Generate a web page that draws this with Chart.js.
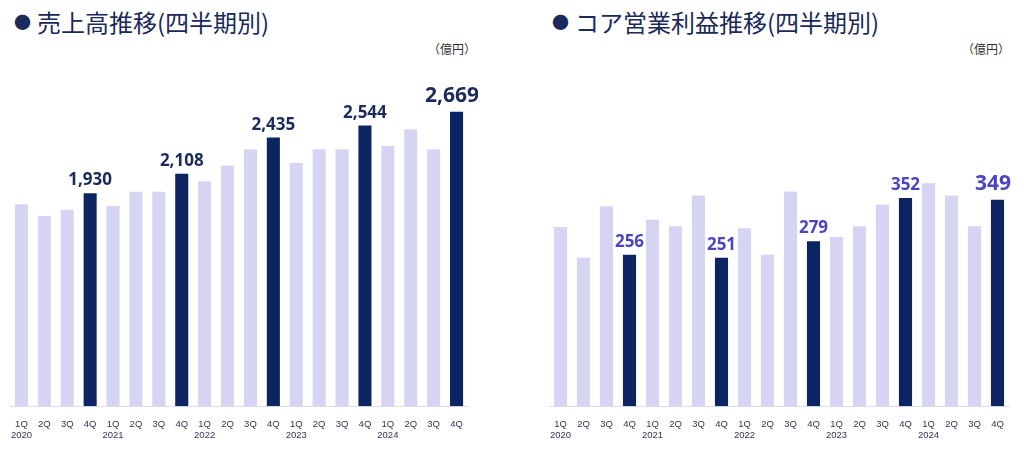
<!DOCTYPE html><html><head><meta charset="utf-8">
<script src="https://cdn.jsdelivr.net/npm/chart.js@4"></script>
<style>
body{margin:0;width:1024px;height:460px;background:#fff;font-family:"Noto Sans CJK JP",sans-serif;position:relative;overflow:hidden}
.t{position:absolute;top:4px;font-size:24px;color:#1a2a5a;white-space:nowrap}
.t b{font-size:17px;vertical-align:3px;margin-right:6px}
.u{position:absolute;top:40px;font-size:12px;color:#333}
.c{position:absolute;top:40px;height:405px}
</style></head><body>
<div class="t" style="left:14px"><b>●</b>売上高推移(四半期別)</div>
<div class="t" style="left:552px"><b>●</b>コア営業利益推移(四半期別)</div>
<div class="u" style="left:428px">（億円）</div>
<div class="u" style="left:962px">（億円）</div>
<div class="c" style="left:0;width:478px"><canvas id="a"></canvas></div>
<div class="c" style="left:539px;width:480px"><canvas id="b"></canvas></div>
<script>
const quarters=['1Q','2Q','3Q','4Q'];
const years=['2020','2021','2022','2023','2024'];
const sales=[1830,1725,1780,1930,1815,1945,1945,2108,2040,2180,2330,2435,2205,2330,2330,2544,2360,2510,2330,2669];
const profit=[303,251,338,256,315,304,356,251,301,256,363,279,286,304,341,352,377,356,304,349];
const labels=[];years.forEach(y=>quarters.forEach(q=>labels.push(q==='1Q'?[q,y]:[q,''])));
const LIGHT='#d5d5f3',DARK='#0c2461';
function make(id,data,max,lblColor){
 const isQ4=(i)=>i%4===3;
 new Chart(document.getElementById(id),{type:'bar',
  data:{labels,datasets:[{data,backgroundColor:data.map((v,i)=>isQ4(i)?DARK:LIGHT),barPercentage:0.57,categoryPercentage:1}]},
  options:{responsive:true,maintainAspectRatio:false,animation:false,
   layout:{padding:{left:10,right:10}},
   plugins:{legend:{display:false},tooltip:{enabled:false}},
   scales:{y:{display:false,min:0,max},
    x:{grid:{display:false},border:{color:'#dde',width:1},ticks:{color:'#335',font:{size:9.5,family:'Liberation Sans'},maxRotation:0,autoSkip:false,padding:4}}}},
  plugins:[{id:'lbl',afterDatasetsDraw(ch){const c=ch.ctx,m=ch.getDatasetMeta(0);c.save();c.textAlign='center';c.fillStyle=lblColor;
   m.data.forEach((b,i)=>{if(!isQ4(i))return;const last=i===data.length-1;c.font='bold '+(last?21:17)+'px "Open Sans",sans-serif';
    c.fillText(data[i].toLocaleString('en-US'),last?Math.min(b.x,ch.width-26):b.x,b.y-(last?10:8));});c.restore();}}]});
}
make('a',sales,3320,'#1a2a5a');
make('b',profit,619,'#4b45c6');
</script></body></html>
